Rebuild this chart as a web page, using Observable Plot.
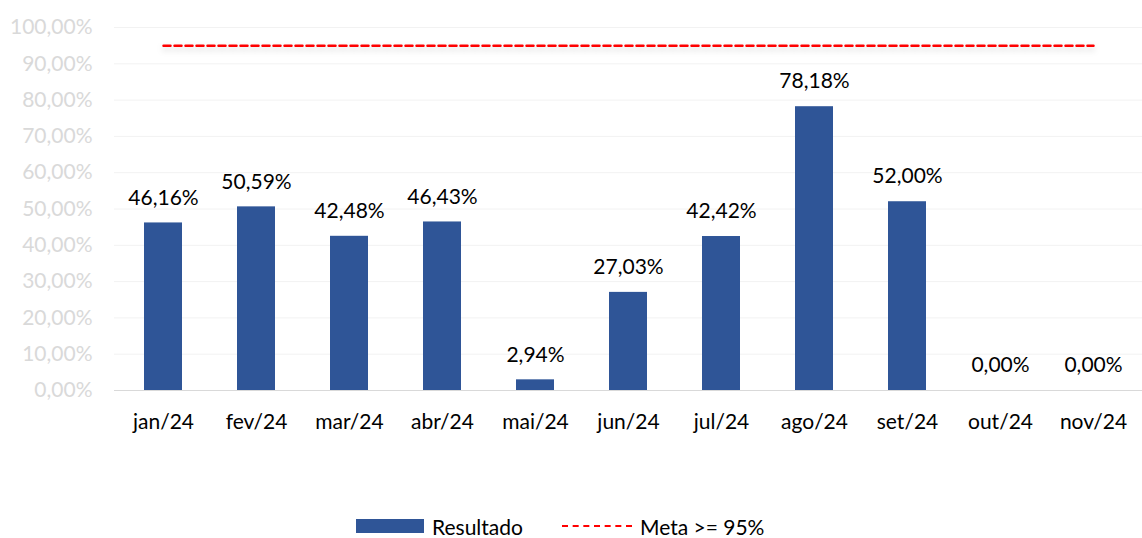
<!DOCTYPE html>
<html>
<head>
<meta charset="utf-8">
<script src="https://cdn.jsdelivr.net/npm/d3@7"></script>
<script src="https://cdn.jsdelivr.net/npm/@observablehq/plot@0.6"></script>
<style>
  body { margin: 0; background: #fff; font-family: Lato, "Open Sans", sans-serif; }
  #legend { height: 48px; position: relative; font-size: 21px; color: #000; }
  .lg { position: absolute; top: 24px; display: flex; align-items: center; height: 24px; }
  .sw { width: 68px; height: 14px; background: #2F5597; margin-right: 8px; }
  .dash { width: 70px; height: 0; border-top: 2.5px dashed #FF0000; margin-right: 8px; }
</style>
</head>
<body>
<div id="chart"></div>
<div id="legend">
  <div class="lg" style="left:356px"><div class="sw"></div><span>Resultado</span></div>
  <div class="lg" style="left:562px"><div class="dash"></div><span>Meta &gt;= 95%</span></div>
</div>
<script>
const months = ["jan/24","fev/24","mar/24","abr/24","mai/24","jun/24","jul/24","ago/24","set/24","out/24","nov/24"];
const resultado = [46.16, 50.59, 42.48, 46.43, 2.94, 27.03, 42.42, 78.18, 52.00, 0, 0];
const meta = 95;
const yTicks = [0,10,20,30,40,50,60,70,80,90,100];

const data = months.map((m, i) => ({m, v: resultado[i]}));
const metaLine = [{m: months[0], v: meta}, {m: months[months.length - 1], v: meta}];
const fmt = d => d.toFixed(2).replace(".", ",") + "%";

const chart = Plot.plot({
  width: 1142,
  height: 490,
  marginLeft: 114,
  marginRight: 0,
  marginTop: 27,
  marginBottom: 100,
  style: {fontFamily: "Lato, 'Open Sans', sans-serif", fontSize: "21px", background: "#fff"},
  x: {domain: months, paddingInner: 0.59, paddingOuter: 0.295, label: null},
  y: {domain: [0, 100], label: null},
  marks: [
    Plot.gridY(yTicks, {stroke: "#f2f2f2", strokeOpacity: 1, strokeWidth: 1}),
    Plot.axisY(yTicks, {tickSize: 0, tickPadding: 22, tickFormat: fmt, fill: "#d9d9d9", fontSize: 21, label: null}),
    Plot.ruleY([0], {stroke: "#d9d9d9", strokeWidth: 1}),
    Plot.barY(data, {x: "m", y: "v", fill: "#2F5597"}),
    Plot.text(data, {x: "m", y: "v", text: d => fmt(d.v), dy: -25, fontSize: 21, fill: "#000"}),
    Plot.lineY(metaLine, {x: "m", y: "v", stroke: "#FF0000", strokeWidth: 2.5, strokeDasharray: "7,4", imageFilter: "drop-shadow(0px 3px 3px rgba(0,0,0,0.18))"}),
    Plot.axisX({tickSize: 0, tickPadding: 24, fontSize: 21, fill: "#000", label: null})
  ]
});
document.getElementById("chart").appendChild(chart);
</script>
</body>
</html>
